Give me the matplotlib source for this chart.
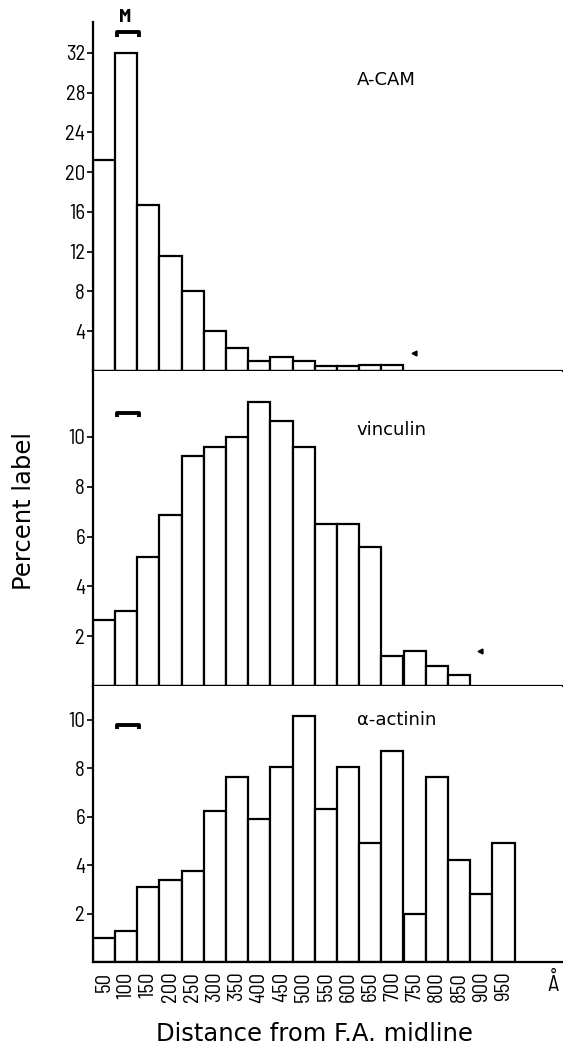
import matplotlib
matplotlib.use('Agg')
import matplotlib.pyplot as plt
from matplotlib import font_manager as fm

# ---- data ----
bin_labels = ["50", "100", "150", "200", "250", "300", "350", "400", "450", "500",
              "550", "600", "650", "700", "750", "800", "850", "900", "950"]
acam = [21.2, 32.0, 16.7, 11.6, 8.0, 4.0, 2.3, 1.0, 1.45, 1.05, 0.5, 0.5, 0.6, 0.6]
vinculin = [2.65, 3.0, 5.2, 6.85, 9.25, 9.6, 10.0, 11.4, 10.65, 9.6, 6.5, 6.5, 5.6,
            1.2, 1.42, 0.8, 0.44]
actinin = [1.0, 1.3, 3.1, 3.4, 3.75, 6.25, 7.65, 5.9, 8.05, 10.15, 6.3, 8.05, 4.9,
           8.7, 2.0, 7.65, 4.2, 2.8, 4.9]
acam_ticks = [4, 8, 12, 16, 20, 24, 28, 32]
vin_ticks = [2, 4, 6, 8, 10]
act_ticks = [2, 4, 6, 8, 10]
panel_names = ["A-CAM", "vinculin", "α-actinin"]

names = {f.name for f in fm.fontManager.ttflist}
NUMF = 'DejaVu Sans'
for cand in ['Barlow Semi Condensed', 'Barlow Condensed', 'Archivo Narrow',
             'Encode Sans Condensed']:
    if cand in names:
        NUMF = cand
        break
plt.rcParams['font.family'] = ['DejaVu Sans']

W, H = 563, 1047
fig = plt.figure(figsize=(W / 100, H / 100), dpi=100)

def fx(px):
    return px / W

def fy(py):
    return 1 - py / H

left = 92.7
right = 562
XMAX = (right - left) / 22.2
LW = 1.6

panels = [
    (acam, 22, 371, 35.1, acam_ticks, panel_names[0], 29.3, 34.1),
    (vinculin, 371, 686, 12.65, vin_ticks, panel_names[1], 10.3, 10.96),
    (actinin, 686, 962, 11.4, act_ticks, panel_names[2], 10.0, 9.79),
]

axes = []
for vals, top, bot, ymax, ticks, name, ny, brk in panels:
    ax = fig.add_axes([fx(left), fy(bot), fx(right - left), (bot - top) / H])
    ax.bar(range(len(vals)), vals, width=1.0, align='edge', facecolor='white',
           edgecolor='black', linewidth=LW, zorder=2)
    ax.set_xlim(0, XMAX)
    ax.set_ylim(0, ymax)
    ax.set_yticks(ticks)
    ax.set_yticklabels([str(t) for t in ticks], fontsize=15, family=NUMF)
    ax.tick_params(axis='y', length=4, width=1.2, pad=1.5, direction='out')
    for s in ['top', 'right']:
        ax.spines[s].set_visible(False)
    for s in ['left', 'bottom']:
        ax.spines[s].set_linewidth(LW)
        ax.spines[s].set_zorder(3)
    ax.set_xticks([])
    ax.text(11.9, ny, name, fontsize=13, ha='left', va='center')
    # bracket mark
    d = ymax * 0.014
    ax.plot([1.1, 1.1, 2.08, 2.08], [brk - d, brk, brk, brk - d],
            color='black', lw=2.8, solid_capstyle='butt', clip_on=False)
    axes.append(ax)

ax0, ax1, ax2 = axes
ax0.text(1.45, 35.15, "M", fontsize=14, fontweight='bold', family=NUMF,
         ha='center', va='baseline')
ax0.plot([14.46], [1.8], marker='<', color='black', markersize=3.5)
ax1.plot([17.45], [1.4], marker='<', color='black', markersize=3.5)

ax2.set_xticks([i + 0.5 for i in range(len(bin_labels))])
ax2.set_xticklabels(bin_labels, rotation=90, fontsize=15, va='top', family=NUMF)
ax2.tick_params(axis='x', length=0, pad=7)
ax2.text(20.73, -0.45, "Å", fontsize=16, ha='center', va='top', family=NUMF)

fig.text(fx(24), fy(511), "Percent label", rotation=90, fontsize=17.5,
         ha='center', va='center')
fig.text(fx(314), fy(1034), "Distance from F.A. midline", fontsize=17.5,
         ha='center', va='center')

fig.savefig('out.png', dpi=100)
